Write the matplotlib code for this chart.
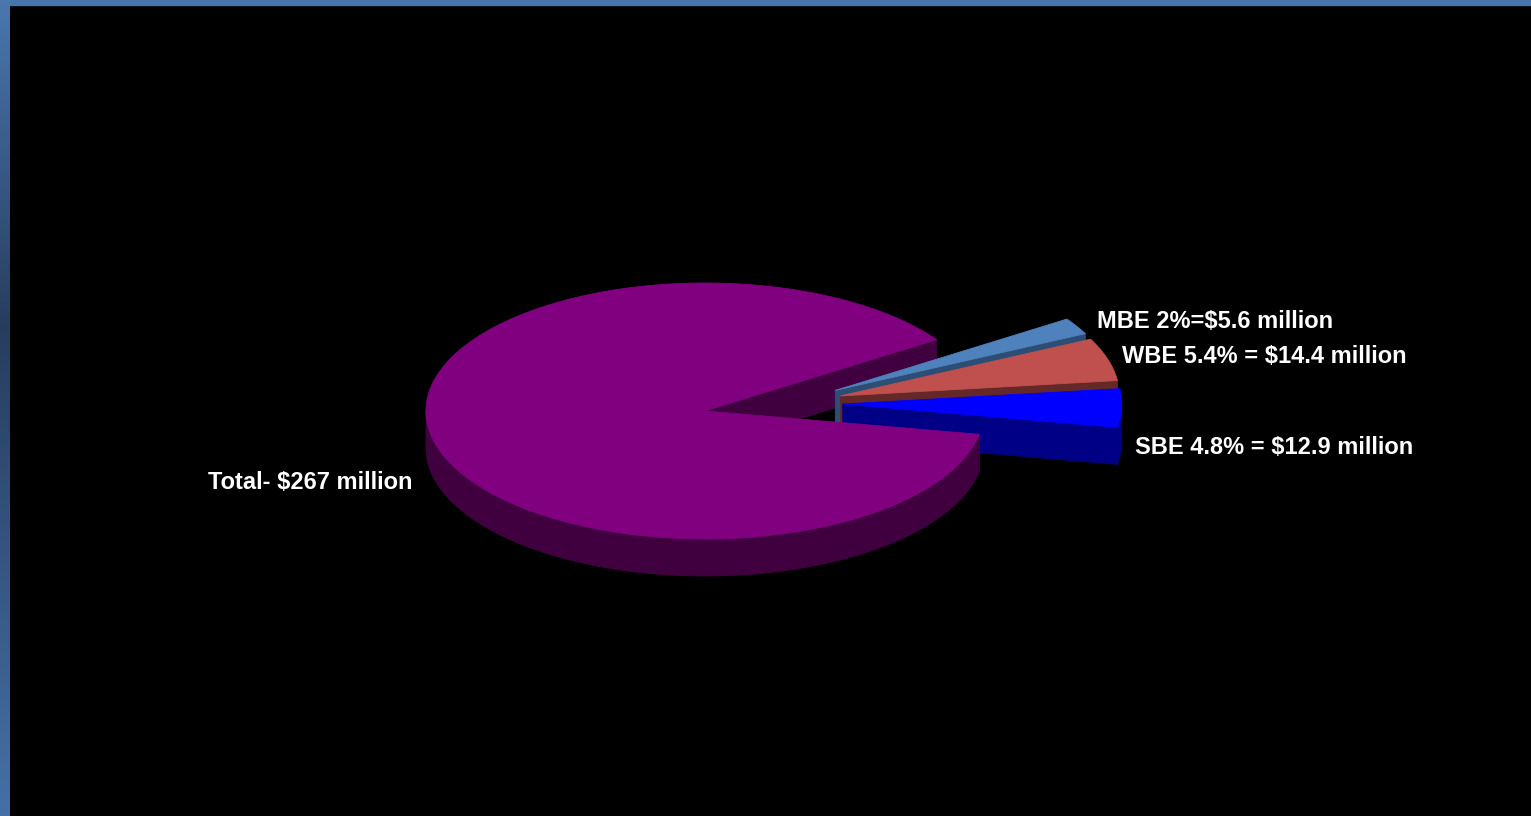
import numpy as np
import matplotlib
matplotlib.use('Agg')
import matplotlib.pyplot as plt
from matplotlib.patches import Polygon, Rectangle
from matplotlib.colors import LinearSegmentedColormap

# data (millions of dollars), drawn counter-clockwise from start angle
names = ['SBE', 'WBE', 'MBE', 'Total']
values = [12.9, 14.4, 5.6, 267 - 12.9 - 14.4 - 5.6]
labels = ['SBE 4.8% = $12.9 million', 'WBE 5.4% = $14.4 million',
          'MBE 2%=$5.6 million', 'Total- $267 million']
top_colors = ['#0000FF', '#C0504D', '#4F81BD', '#800080']
side_colors = ['#000086', '#642828', '#2C4D74', '#400040']
exploded = [True, True, True, False]

W, H = 1531, 816
CX, CY = 705, 411          # pie centre (pixels)
RX, RY = 279, 128          # ellipse radii
DEPTH = 37                 # pie thickness
START = -10.5              # degrees
GROUP_EXPLODE = 0.30
SLICE_EXPLODE = 0.20

fig = plt.figure(figsize=(W / 100, H / 100), dpi=100, facecolor='black')
ax = fig.add_axes([0, 0, 1, 1])
ax.set_xlim(0, W)
ax.set_ylim(H, 0)
ax.set_facecolor('black')
ax.axis('off')

# frame: top bar and gradient bar on the left
ax.add_patch(Rectangle((0, 0), W, 5, color='#4874AC', zorder=0))
cmap = LinearSegmentedColormap.from_list('edge', [(0, '#4A77AE'), (0.4, '#273D5E'), (1, '#4570A6')])
ax.imshow(np.linspace(0, 1, 200).reshape(-1, 1), cmap=cmap, extent=(0, 10, H, 0),
          aspect='auto', zorder=0)
ax.set_xlim(0, W)
ax.set_ylim(H, 0)

frac = np.array(values) / sum(values)
bounds = START + 360 * np.concatenate([[0], np.cumsum(frac)])


def rim(cx, cy, th):
    t = np.radians(th)
    return cx + RX * np.cos(t), cy - RY * np.sin(t)


def arc(cx, cy, a0, a1):
    th = np.linspace(a0, a1, max(int(abs(a1 - a0) * 2), 4))
    x, y = rim(cx, cy, th)
    return np.column_stack([x, y])


def offset(i):
    if not exploded[i]:
        return 0.0, 0.0
    g0 = bounds[0]
    g1 = bounds[sum(exploded)]
    gm = np.radians((g0 + g1) / 2)
    m = np.radians((bounds[i] + bounds[i + 1]) / 2)
    dx = GROUP_EXPLODE * RX * np.cos(gm) + SLICE_EXPLODE * RX * np.cos(m)
    dy = -GROUP_EXPLODE * RY * np.sin(gm) - SLICE_EXPLODE * RY * np.sin(m)
    return dx, dy


def poly(pts, color):
    ax.add_patch(Polygon(pts, closed=True, facecolor=color, edgecolor=color,
                         linewidth=0.6, zorder=2))


def draw_faces(i, cx, cy):
    a0, a1 = bounds[i], bounds[i + 1]
    for a, visible in ((a0, np.cos(np.radians(a0)) > 0), (a1, np.cos(np.radians(a1)) < 0)):
        if visible:
            rx, ry = rim(cx, cy, a)
            poly([(cx, cy), (rx, ry), (rx, ry + DEPTH), (cx, cy + DEPTH)], side_colors[i])


def draw_side(i, cx, cy):
    a0, a1 = bounds[i], bounds[i + 1]
    for k in (-1, 0, 1):
        lo, hi = max(a0, 180 + 360 * k), min(a1, 360 + 360 * k)
        if hi > lo:
            top = arc(cx, cy, lo, hi)
            bot = top[::-1] + [0, DEPTH]
            poly(np.vstack([top, bot]), side_colors[i])


def draw_top(i, cx, cy):
    pts = np.vstack([[cx, cy], arc(cx, cy, bounds[i], bounds[i + 1])])
    poly(pts, top_colors[i])


main = names.index('Total')
# back cut face of the main slice shows through the gap
draw_faces(main, CX, CY)
# exploded slices from back to front
for i in [2, 1, 0]:
    dx, dy = offset(i)
    draw_faces(i, CX + dx, CY + dy)
    draw_side(i, CX + dx, CY + dy)
    draw_top(i, CX + dx, CY + dy)
draw_side(main, CX, CY)
draw_top(main, CX, CY)

# labels
label_pos = [(1135, 454), (1122, 363), (1097, 328), (208, 489)]
for text, (x, y) in zip(labels, label_pos):
    ax.text(x, y, text, color='white', fontsize=17, fontweight='bold',
            family='Liberation Sans', ha='left', va='baseline', zorder=3)

fig.savefig('out.png', dpi=100, facecolor='black')
